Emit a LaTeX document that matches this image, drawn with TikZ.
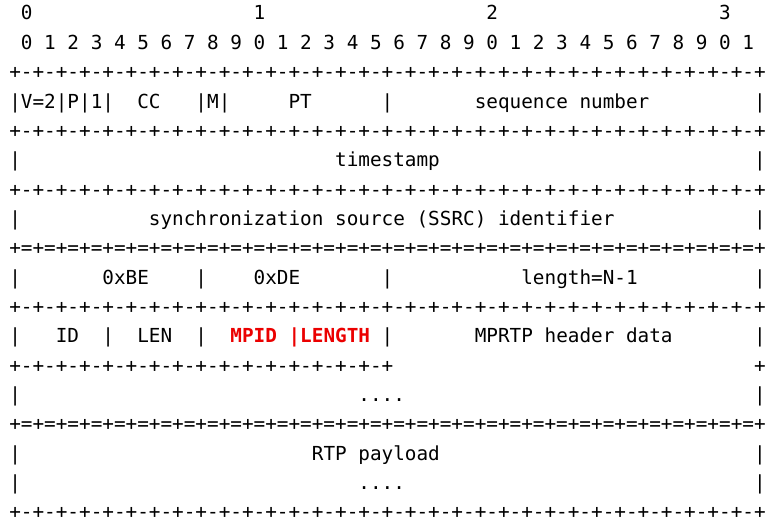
\documentclass[tikz,border=0pt]{standalone}
\usepackage{fontspec}
\newfontfamily\asciifont{DejaVu Sans Mono}[WordSpace={1,0,0}]
\newcommand\skc[1]{\kern#1\fontcharwd\font`0\relax}
\newcommand\dashrow{+-+-+-+-+-+-+-+-}
\newcommand\eqrow{+=+=+=+=+=+=+=+=}
\definecolor{hl}{RGB}{235,0,0}
\begin{document}
\begin{tikzpicture}[x=1pt,y=1pt,
  row/.style={anchor=base west, inner sep=0pt, outer sep=0pt,
    font={\asciifont\fontsize{19.33pt}{24pt}\selectfont}}]
\useasboundingbox (0,0) rectangle (766,-521);
\fill[white] (0,0) rectangle (766,-521);
\def\lx{9.3}
\node[row] (l1)  at (\lx,-20.00) {\skc{1}0\skc{19}1\skc{19}2\skc{19}3};
\node[row] (l2)  at (\lx,-49.35) {\skc{1}0\skc{1}1\skc{1}2\skc{1}3\skc{1}4\skc{1}5\skc{1}6\skc{1}7\skc{1}8\skc{1}9\skc{1}0\skc{1}1\skc{1}2\skc{1}3\skc{1}4\skc{1}5\skc{1}6\skc{1}7\skc{1}8\skc{1}9\skc{1}0\skc{1}1\skc{1}2\skc{1}3\skc{1}4\skc{1}5\skc{1}6\skc{1}7\skc{1}8\skc{1}9\skc{1}0\skc{1}1};
\node[row] (l3)  at (\lx,-78.70) {\dashrow\dashrow\dashrow\dashrow+};
\node[row] (l4)  at (\lx,-108.05) {|V=2|P|1|\skc{2}CC\skc{3}|M|\skc{5}PT\skc{6}|\skc{7}sequence\skc{1}number\skc{9}|};
\node[row] (l5)  at (\lx,-137.40) {\dashrow\dashrow\dashrow\dashrow+};
\node[row] (l6)  at (\lx,-166.75) {|\skc{27}timestamp\skc{27}|};
\node[row] (l7)  at (\lx,-196.10) {\dashrow\dashrow\dashrow\dashrow+};
\node[row] (l8)  at (\lx,-225.45) {|\skc{11}synchronization\skc{1}source\skc{1}(SSRC)\skc{1}identifier\skc{12}|};
\node[row] (l9)  at (\lx,-254.80) {\eqrow\eqrow\eqrow\eqrow+};
\node[row] (l10) at (\lx,-284.15) {|\skc{7}0xBE\skc{4}|\skc{4}0xDE\skc{7}|\skc{11}length=N-1\skc{10}|};
\node[row] (l11) at (\lx,-313.50) {\dashrow\dashrow\dashrow\dashrow+};
\node[row] (l12) at (\lx,-342.85) {|\skc{3}ID\skc{2}|\skc{2}LEN\skc{2}|\skc{2}{\bfseries\color{hl}MPID\skc{1}|LENGTH}\skc{1}|\skc{7}MPRTP\skc{1}header\skc{1}data\skc{7}|};
\node[row] (l13) at (\lx,-372.20) {\dashrow\dashrow+\skc{31}+};
\node[row] (l14) at (\lx,-401.55) {|\skc{29}....\skc{30}|};
\node[row] (l15) at (\lx,-430.90) {\eqrow\eqrow\eqrow\eqrow+};
\node[row] (l16) at (\lx,-460.25) {|\skc{25}RTP\skc{1}payload\skc{27}|};
\node[row] (l17) at (\lx,-489.60) {|\skc{29}....\skc{30}|};
\node[row] (l18) at (\lx,-518.95) {\dashrow\dashrow\dashrow\dashrow+};
\end{tikzpicture}
\end{document}
